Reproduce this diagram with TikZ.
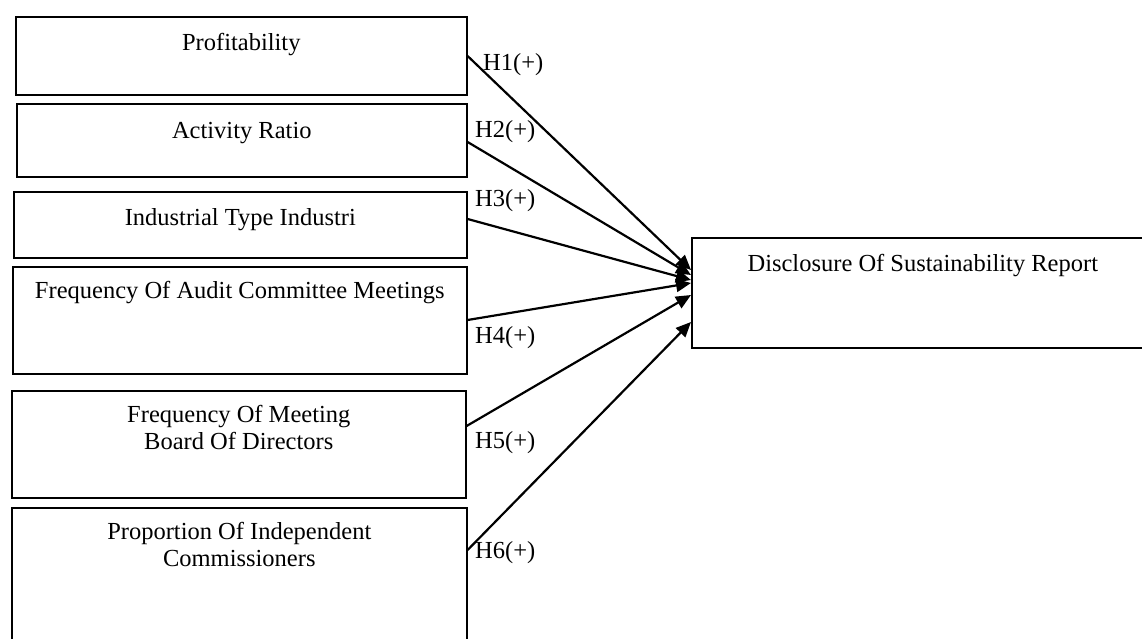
\documentclass[tikz,border=0pt]{standalone}
\usepackage{fontspec}
\setmainfont{Liberation Serif}
\usetikzlibrary{arrows.meta}

\tikzset{
  varbox/.style={draw, line width=1.6pt, inner xsep=0pt, inner ysep=0pt, align=center,
    anchor=north west, font=\fontsize{24.5}{27}\selectfont},
  hyplabel/.style={anchor=base west, inner sep=0pt, font=\fontsize{24.5}{27}\selectfont},
  effect/.style={line width=2.2pt, -{Triangle[length=15pt,width=13pt]}}
}

\begin{document}
\begin{tikzpicture}[x=1pt, y=-1pt]
  \useasboundingbox (0,0) rectangle (1142,639);

  % independent variables
  \node[varbox, minimum width=451pt, text height=34pt, text depth=44pt] (prof) at (15,16) {Profitability};
  \node[varbox, minimum width=450pt, text height=35pt, text depth=38pt] (act) at (16,103) {Activity Ratio};
  \node[varbox, minimum width=453pt, text height=34pt, text depth=32pt] (ind) at (13,191) {Industrial Type Industri};
  \node[varbox, minimum width=454pt, text height=32pt, text depth=75pt] (audit) at (12,266) {Frequency Of Audit Committee Meetings};
  \node[varbox, minimum width=454pt, text height=59pt, text depth=48pt] (board) at (11,390) {Frequency Of Meeting\\Board Of Directors};
  \node[varbox, minimum width=455pt, text height=59pt, text depth=120pt] (prop) at (11,507) {Proportion Of Independent\\Commissioners};

  % dependent variable
  \node[varbox, minimum width=462pt, text height=34pt, text depth=76pt] (disc) at (691,237) {Disclosure Of Sustainability Report};

  % hypotheses
  \draw[effect] ([yshift=-40pt]prof.north east) -- ([yshift=-33pt]disc.north west);
  \draw[effect] ([yshift=-39pt]act.north east) -- ([yshift=-38pt]disc.north west);
  \draw[effect] ([yshift=-28pt]ind.north east) -- ([yshift=-43pt]disc.north west);
  \draw[effect] ([yshift=-54pt]audit.north east) -- ([yshift=-46pt]disc.north west);
  \draw[effect] ([yshift=-36pt]board.north east) -- ([yshift=-58pt]disc.north west);
  \draw[effect] ([yshift=-43pt]prop.north east) -- ([yshift=-85pt]disc.north west);

  \node[hyplabel] (h1) at (483,71) {H1(+)};
  \node[hyplabel] (h2) at (475,138) {H2(+)};
  \node[hyplabel] (h3) at (475,207) {H3(+)};
  \node[hyplabel] (h4) at (475,343) {H4(+)};
  \node[hyplabel] (h5) at (475,448) {H5(+)};
  \node[hyplabel] (h6) at (475,558) {H6(+)};
\end{tikzpicture}
\end{document}
